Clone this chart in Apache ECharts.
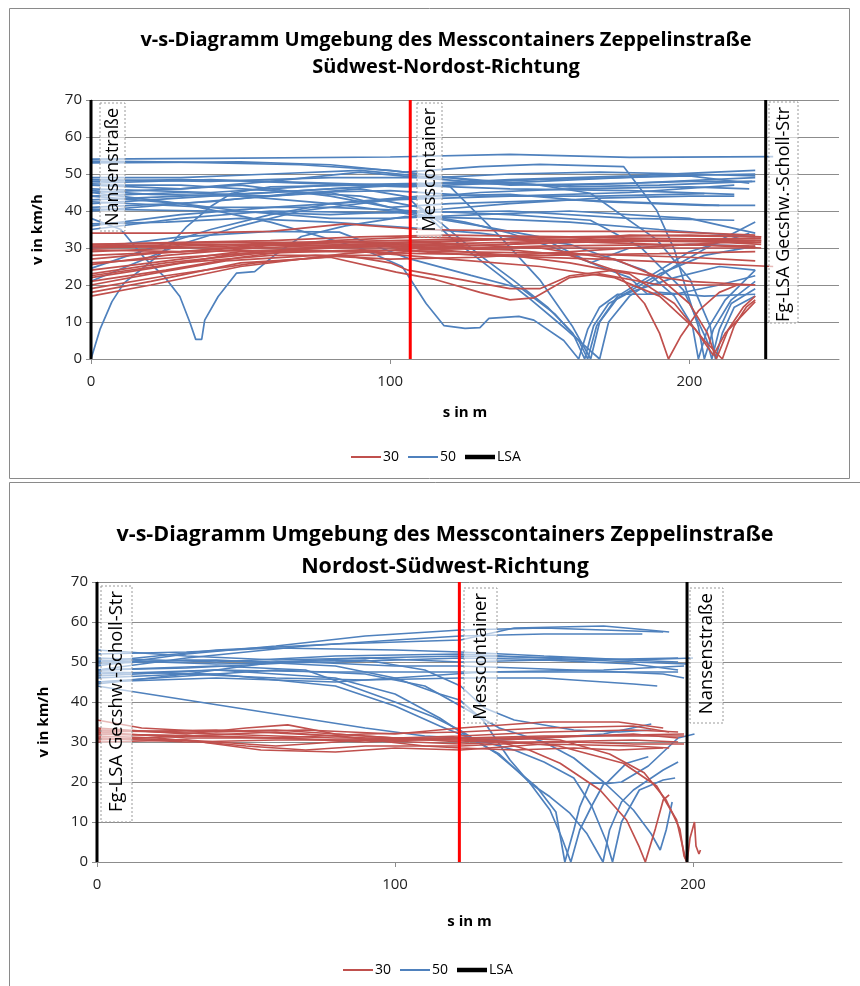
<!DOCTYPE html>
<html>
<head>
<meta charset="utf-8">
<script src="https://cdn.jsdelivr.net/npm/echarts@6/dist/echarts.min.js"></script>
<style>
  html, body { margin: 0; padding: 0; background: #fff; }
  #chart { width: 860px; height: 986px; }
</style>
</head>
<body>
<div id="chart"></div>
<script>
// v-s curves, one polyline per vehicle: [s in m, v in km/h]
const topRed = [
  [[0,34],[30,34],[60,34.5],[85,36.5],[110,35],[150,34.5],[190,34.5],[222,33.5]],
  [[0,31],[30,31.5],[60,32],[90,33],[120,33.5],[160,33],[200,33.5],[224,33]],
  [[0,30.5],[40,31],[80,30.5],[106,31],[140,31.5],[180,32.5],[224,32.5]],
  [[0,30],[30,30.5],[70,31.5],[100,32],[130,32.5],[170,32],[224,31.5]],
  [[0,29],[30,30],[60,31],[90,31.5],[120,30.5],[160,31.5],[200,32],[224,32]],
  [[0,27],[20,28.5],[50,30],[80,32],[110,33],[150,32],[190,31],[222,30.5]],
  [[0,25.5],[25,28],[55,30],[85,31],[115,31.5],[150,33],[200,32.5],[224,32]],
  [[0,24],[20,26],[50,29],[80,30],[106,30],[140,31],[180,33.5],[224,33]],
  [[0,23],[25,26],[55,28.5],[90,29.5],[120,29],[160,28.5],[200,27.5],[222,26.5]],
  [[0,22],[20,24.5],[45,28],[70,30],[95,31],[110,29],[130,28],[170,27],[200,26],[228,25]],
  [[0,21],[25,24],[50,27.5],[75,30],[100,30.5],[130,30],[160,30],[222,30]],
  [[0,20],[20,23],[45,26.5],[75,28],[100,27],[130,27.5],[170,29.5],[222,32]],
  [[0,19],[25,22.5],[55,26],[85,28],[100,26],[106,24],[120,22],[140,19],[150,19],[160,22.5],[175,24],[200,21],[222,20]],
  [[0,18],[20,21],[50,26],[80,27.5],[102,23.5],[115,21.5],[130,18],[140,16],[148,16.5],[160,22],[170,23],[190,20],[222,20]],
  [[0,17],[20,20],[50,25],[85,28.5],[110,30],[140,29.5],[160,28],[175,24],[185,15],[190,7],[193,0],[197,6],[203,13],[210,18],[216,20]],
  [[0,30.5],[40,30],[80,30],[120,31],[150,30],[175,27],[190,22],[200,15],[206,7],[209,0],[213,8],[218,14],[222,17]],
  [[0,28],[30,29],[60,31],[100,30.5],[140,28],[160,26],[180,23],[195,15],[205,5],[211,0],[215,9],[219,14],[222,16]],
  [[0,26],[30,27.5],[60,29],[90,29],[120,27],[150,25],[175,22],[190,17],[202,8],[208,1],[212,7],[222,15.5]],
  [[0,31],[50,31.5],[100,31.5],[150,32.5],[200,32],[224,31]],
  [[0,22.5],[30,26],[60,28],[95,28],[110,29.5],[150,30.5],[200,31],[224,30]],
  [[0,29.5],[30,29],[70,29.5],[110,28.5],[150,28],[190,28.5],[222,29]]
];

const topBlue = [
  [[0,54],[40,54.2],[100,54.6],[140,55.3],[180,54.5],[228,54.7]],
  [[0,53],[50,53.3],[80,52.5],[105,50.5],[130,52],[150,52.6],[178,52],[189,40.3],[195,29.5],[199,18.6],[203,8.7],[205,0],[208,8],[214,16],[222,21]],
  [[0,48],[30,48.5],[60,48],[100,47],[140,48.5],[180,49.5],[222,51]],
  [[0,47.5],[40,48.5],[70,47.5],[105,46.5],[150,48],[190,49.5],[222,50]],
  [[0,45],[30,46],[60,48],[90,50.5],[110,49],[140,47],[180,47.5],[222,49]],
  [[0,43],[30,44],[60,45],[100,47],[150,48.5],[200,49.5],[220,47.5]],
  [[0,42],[40,44],[80,46],[105,47],[140,46],[180,45.5],[215,44.5]],
  [[0,41],[40,42.5],[70,45],[100,45.5],[130,44],[170,44],[205,44.7]],
  [[0,40],[30,42],[60,44],[80,45],[100,41],[120,42],[160,43],[210,41.5]],
  [[0,36],[30,39],[60,41],[100,43],[140,44],[180,45],[215,47]],
  [[0,35],[30,38],[60,40],[100,39.5],[140,40],[180,38],[215,37.5]],
  [[0,45],[20,43],[50,40],[80,38],[100,38],[130,39],[160,40],[200,38],[222,34]],
  [[0,0],[3,8],[7,15.5],[11,20.5],[18,25],[26,30.4],[32,35.8],[40,41.2],[47,44.8],[60,46.5],[90,47],[120,47.5],[160,47],[200,48],[221,48]],
  [[0,38],[10,35],[18,27.2],[24.6,22.2],[29.7,16.9],[33,10],[35,5.3],[37,5.3],[38,10.5],[42.5,16.9],[48.6,23.2],[54.7,23.6],[61.4,28.1],[70.3,33.1],[85,36],[105,38.5],[130,38],[160,37],[190,35],[222,33]],
  [[0,44],[30,42],[60,37],[90,30],[104,25],[112,15],[118,9],[125,8.3],[130,8.5],[133,11],[143,11.5],[148,10.5],[158,5],[163,0],[166,8],[170,14],[176,17.5],[195,17.5],[210,20],[222,22.5]],
  [[0,47],[30,47],[60,45.5],[90,44],[110,41],[117,36.7],[130,28],[141,21.4],[152.5,14.1],[161,7],[165,0],[168,9],[173,15],[180,18],[195,22],[210,25],[222,24]],
  [[0,46],[40,45],[80,47],[110,47.5],[120,46.6],[136.8,33],[150,21.4],[161,8.7],[167,0],[170,10],[176,16.5],[190,23],[205,28],[222,30.5]],
  [[0,44],[30,45],[60,44],[90,46],[105.6,43.9],[120,33],[135.7,23.2],[145.7,16.9],[159,7.9],[170,0],[173,10],[180,17],[195,25],[210,32],[222,37]],
  [[0,30],[30,33],[60,34.5],[83,34.3],[106,27.2],[127,22.6],[144,19],[155,12.2],[163,5],[166,0],[169,9],[176,17],[200,29],[220,34]],
  [[0,21],[15,26],[30,31],[50,36],[70,40],[100,43],[130,45],[160,46],[200,46.5],[220,46]],
  [[0,24.5],[20,30],[40,35],[60,39],[80,42],[110,44],[140,44.5],[170,42.5],[205,41.5],[222,41.5]],
  [[0,45.5],[20,44.5],[50,44],[80,42],[100,40],[130,36],[150,33],[167,26],[180,30],[200,31],[220,30.5]],
  [[0,48.5],[40,48],[80,49],[120,49],[150,47],[166.9,44.8],[189.2,32.2],[200.3,21.4],[207,8.7],[208.7,0],[211,7],[215,14],[222,17]],
  [[0,42.5],[40,41],[80,41],[110,40],[140,39],[166.9,37.5],[183.6,30.3],[198,18.6],[205.8,5.1],[207.5,0],[210,8],[214,15],[222,19]],
  [[0,49],[30,49],[60,50],[90,51],[115,49],[140,50],[170,50.5],[200,50],[222,49.5]],
  [[0,40.5],[40,40],[80,39],[110,40],[140,42],[170,43.5],[200,44],[215,44]],
  [[0,36.5],[25,37],[50,38],[80,37],[106,35.5],[130,34],[160,31],[185,24],[195,17],[201,9],[203,0],[206,8],[212,16],[222,24]],
  [[0,53.5],[30,53.2],[70,52.5],[100,51],[130,48],[160,46.5],[190,47],[222,48]],
  [[0,47],[30,46],[50,47],[80,44],[100,41],[110,39],[125,37],[140,34],[155,30],[170,25],[180,22],[186,17.5],[190,18],[205,17],[222,17.5]]
];

const bottomRed = [
  [[0,35.5],[15,33.5],[40,32.5],[70,33],[100,32],[122,33.5],[150,35],[175,35],[190,33.5]],
  [[0,33.5],[30,32],[50,33.5],[64,34.3],[80,32],[100,31],[122,31.5],[150,32.5],[180,33],[195,32.5]],
  [[0,33],[30,32.5],[60,33],[90,31.5],[122,30],[150,31],[180,32],[195,31]],
  [[0,32.5],[30,31],[60,31],[90,32],[122,32.5],[150,33.5],[180,34],[192,32.5]],
  [[0,32],[40,31.5],[80,30.5],[122,30.5],[160,31.5],[197,32]],
  [[0,31.5],[20,31],[50,29],[70,28],[90,29],[122,29],[150,30],[180,30.5],[195,30]],
  [[0,31],[30,30.5],[55,28],[80,27.5],[100,28.5],[122,28],[150,29.5],[180,29],[192,28.5]],
  [[0,30.5],[30,31.5],[60,31],[90,30],[122,31],[150,31.5],[180,31.5],[197,31.5]],
  [[0,30],[30,30.5],[60,29],[90,30.5],[122,29.5],[140,30],[160,30],[180,29.5],[197,29.5]],
  [[0,32],[30,31.5],[60,32.5],[90,31],[122,30.5],[135,30],[145,28],[155.4,24.7],[168.8,18],[177.7,10.5],[182,3.7],[184,0],[187.4,8.4],[190,15.5],[192,16.8]],
  [[0,31],[30,30],[60,30.5],[90,30.5],[122,31],[140,31],[155.4,30.5],[172,27],[183.6,22.3],[191,15.5],[195.6,8.2],[197,1.5],[198,0],[199,6],[200.5,10],[201,4],[202,2],[202.5,3]],
  [[0,33],[40,32],[80,31],[122,31],[155,29],[176.6,24.7],[187.8,19],[194.5,10.5],[197.4,1],[198,0]],
  [[0,32.5],[40,33],[80,31.5],[110,29],[122,28.5],[140,28],[160,28.5],[175,28],[190,28.5]]
];

const bottomBlue = [
  [[0,49],[30,52],[60,54],[90,56.5],[122,58],[150,58.5],[170,58],[190,57.5]],
  [[0,50],[40,53],[80,54.5],[122,55.5],[140,58.5],[170,59],[185,58],[192,57.5]],
  [[0,48],[30,51],[70,54],[100,55.5],[122,56.5],[150,57],[183,57]],
  [[0,52],[30,52.5],[60,53.5],[100,53],[122,52.5],[150,51.5],[180,50.5],[200,51]],
  [[0,51],[40,50],[80,51.5],[122,52],[150,51],[180,50],[198,49.5]],
  [[0,49.5],[30,50.5],[60,50],[90,51],[122,50],[150,50.5],[180,49.5],[195,48]],
  [[0,48],[30,48.5],[70,50],[100,49],[122,49],[160,48],[190,47],[197,46]],
  [[0,47],[40,48],[80,47.5],[122,47.5],[160,47.5],[195,47.5]],
  [[0,46],[30,47],[60,46],[90,45.5],[122,46],[150,46],[180,44.5],[188,44]],
  [[0,45],[40,46],[80,45],[110,46.5],[130,47.5],[170,48],[197,49]],
  [[0,53],[30,51.5],[60,50.5],[90,51],[122,51.5],[160,51],[195,50]],
  [[0,50.5],[40,49.5],[80,50],[122,51],[160,50.5],[195,51]],
  [[0,44],[30,40.5],[60,37],[90,33.5],[110,31.5],[122,31],[135,30.5],[150,31],[170,32],[186,34.5]],
  [[0,48],[40,49],[70,48],[85,44],[100,40],[112.8,36.3],[121.7,33],[134,27.2],[147.5,18.8],[154,12.5],[157,0],[160,8],[162,13.8],[165.4,19.7],[171,19.7],[177.7,24.7],[185,26.3]],
  [[0,50],[40,50.5],[80,49],[100,46],[115,42],[121.7,40.5],[129.5,35.5],[138.6,25.5],[145.3,19.7],[152,16.3],[158.7,12.2],[164.3,7.2],[169.8,0],[172,8],[176,15],[180,18],[190,23],[195,25]],
  [[0,46.5],[40,48],[80,46],[100,42],[115,36],[125,31],[135,27],[145,20],[152,13],[156,6],[159,0],[162,8],[166,14],[170,19.5],[176,20],[185,24],[195,31],[200.5,32]],
  [[0,47.5],[40,47],[80,44],[100,39],[115,34],[125,31],[140,28],[150,25],[160,21],[166,14],[171,5],[173,0],[176,10],[182,18],[190,20.5],[194,21]],
  [[0,45],[30,46.5],[60,48],[90,47],[110,44],[122,39],[135,33.5],[150,30],[160,26],[170,20],[180,13],[186,7],[189,3],[191,8],[193,15]],
  [[0,44.5],[30,47],[60,50],[90,50.5],[110,48],[122,44],[130,38.5],[140,35.5],[160,33],[175,32.5],[186,33]]
];

const topLsaX = [0, 225.5];
const topMessX = 106.7;
const bottomLsaX = [0, 198];
const bottomMessX = 121.6;

const titleTop = 'v-s-Diagramm Umgebung des Messcontainers Zeppelinstraße\nSüdwest-Nordost-Richtung';
const titleBottom = 'v-s-Diagramm Umgebung des Messcontainers Zeppelinstraße\nNordost-Südwest-Richtung';

const RED = '#C0504D';
const BLUE = '#4F81BD';
const GRID = '#8c8c8c';
const FONT = "'Open Sans', 'Noto Sans', sans-serif";

const chart = echarts.init(document.getElementById('chart'));

function curveSeries(lines, name, color, gi) {
  return lines.map(pts => ({
    name: name,
    type: 'line',
    xAxisIndex: gi,
    yAxisIndex: gi,
    data: pts,
    symbol: 'none',
    lineStyle: { width: 1.7, color: color },
    itemStyle: { color: color },
    emphasis: { disabled: true },
    z: 2
  }));
}

function vLine(x, name, color, width, gi) {
  return {
    name: name,
    type: 'line',
    xAxisIndex: gi,
    yAxisIndex: gi,
    data: [[x, 0], [x, 70]],
    symbol: 'none',
    lineStyle: { width: width, color: color },
    itemStyle: { color: color },
    emphasis: { disabled: true },
    z: 4
  };
}

function xAxisOpt(gi, gap) {
  return {
    gridIndex: gi, type: 'value', min: 0, max: 250, interval: 100,
    name: 's in m', nameLocation: 'middle', nameGap: gap,
    nameTextStyle: { fontFamily: FONT, fontWeight: 'bold', fontSize: 15, color: '#000' },
    axisLine: { lineStyle: { color: GRID } },
    axisTick: { show: true, length: 5, lineStyle: { color: GRID } },
    axisLabel: { fontFamily: FONT, fontSize: 15, color: '#222', margin: 15, showMaxLabel: false },
    splitLine: { show: false }
  };
}

function yAxisOpt(gi) {
  return {
    gridIndex: gi, type: 'value', min: 0, max: 70, interval: 10,
    name: 'v in km/h', nameLocation: 'middle', nameGap: 46,
    nameTextStyle: { fontFamily: FONT, fontWeight: 'bold', fontSize: 15, color: '#000' },
    axisLine: { show: true, lineStyle: { color: GRID } },
    axisTick: { show: true, length: 5, lineStyle: { color: GRID } },
    axisLabel: { fontFamily: FONT, fontSize: 15, color: '#222', margin: 9 },
    splitLine: { lineStyle: { color: GRID, width: 1 } }
  };
}

// dotted white box with rotated caption, drawn above the curves
function labelBox(x, y, w, h, text, size) {
  return [
    { type: 'rect', z: 50, shape: { x: x, y: y, width: w, height: h },
      style: { fill: 'rgba(255,255,255,0.6)', stroke: '#9a9a9a', lineWidth: 1, lineDash: [2, 2] } },
    { type: 'text', z: 51, x: x + w / 2, y: y + 5, rotation: Math.PI / 2,
      style: { text: text, fontFamily: FONT, fontSize: size, fill: '#000',
               align: 'right', verticalAlign: 'middle' } }
  ];
}

const thinIcon = 'path://M0,0H30V2H0Z';
const thickIcon = 'path://M0,0H30V4.5H0Z';

function legendOpt(left, top) {
  return {
    data: [
      { name: '30', icon: thinIcon },
      { name: '50', icon: thinIcon },
      { name: 'LSA', icon: thickIcon }
    ],
    left: left, top: top, itemWidth: 30, itemHeight: 14, itemGap: 9,
    textStyle: { fontFamily: FONT, fontSize: 14, color: '#000', padding: [0, 0, 0, -3] }
  };
}

const series = [].concat(
  curveSeries(topBlue, '50', BLUE, 0),
  curveSeries(topRed, '30', RED, 0),
  vLine(topMessX, 'Messcontainer', '#FF0000', 3, 0),
  topLsaX.map(x => vLine(x, 'LSA', '#000', 3, 0)),
  curveSeries(bottomBlue, '50', BLUE, 1),
  curveSeries(bottomRed, '30', RED, 1),
  vLine(bottomMessX, 'Messcontainer', '#FF0000', 3, 1),
  bottomLsaX.map(x => vLine(x, 'LSA', '#000', 3, 1))
);

const option = {
  animation: false,
  backgroundColor: '#fff',
  title: [
    { text: titleTop, left: 441, textAlign: 'center', top: 22,
      textStyle: { fontFamily: FONT, fontWeight: 'bold', fontSize: 20, lineHeight: 27, color: '#000' } },
    { text: titleBottom, left: 440, textAlign: 'center', top: 514,
      textStyle: { fontFamily: FONT, fontWeight: 'bold', fontSize: 21.5, lineHeight: 32, color: '#000' } }
  ],
  legend: [legendOpt(346, 445), legendOpt(338, 958)],
  grid: [
    { left: 91, top: 100, width: 748, height: 259 },
    { left: 97, top: 582, width: 745, height: 280 }
  ],
  xAxis: [xAxisOpt(0, 46), xAxisOpt(1, 52)],
  yAxis: [yAxisOpt(0), yAxisOpt(1)],
  series: series,
  graphic: [].concat(
    { type: 'rect', z: 0, shape: { x: 9.5, y: 8.5, width: 840, height: 470 },
      style: { fill: 'none', stroke: '#8a8a8a', lineWidth: 1 } },
    { type: 'rect', z: 0, shape: { x: 9.5, y: 482.5, width: 900, height: 600 },
      style: { fill: 'none', stroke: '#8a8a8a', lineWidth: 1 } },
    labelBox(100, 103, 25, 128, 'Nansenstraße', 18),
    labelBox(417, 103, 25, 134, 'Messcontainer', 18),
    labelBox(769, 102, 29, 221, 'Fg-LSA Gecshw.-Scholl-Str', 18),
    labelBox(101, 586, 31, 236, 'Fg-LSA Gecshw.-Scholl-Str', 18.5),
    labelBox(464, 588, 33, 135, 'Messcontainer', 18.5),
    labelBox(690, 588, 33, 135, 'Nansenstraße', 18.5)
  )
};

chart.setOption(option);
</script>
</body>
</html>
